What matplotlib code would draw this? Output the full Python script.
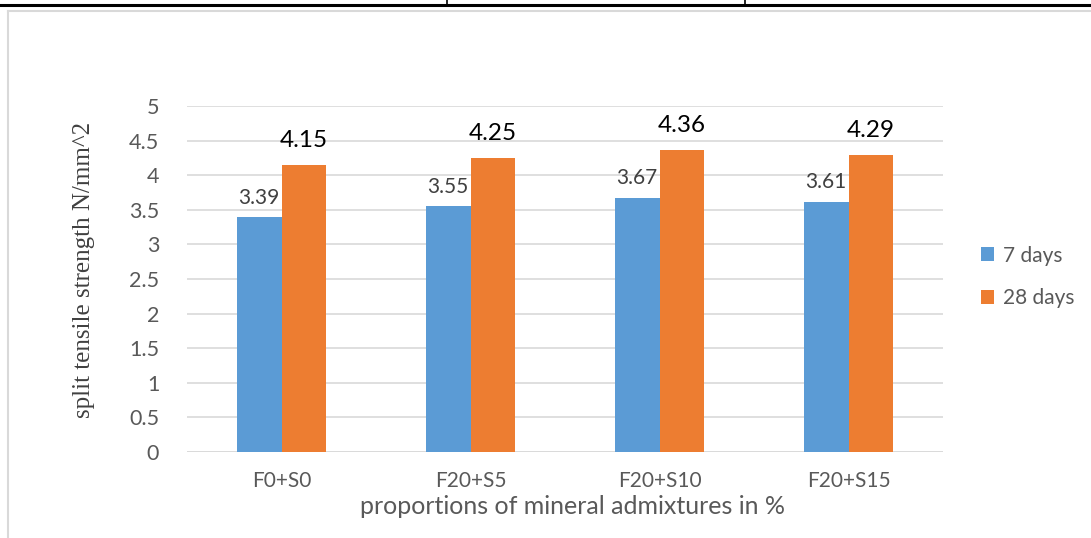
import matplotlib.pyplot as plt
import numpy as np
from matplotlib.lines import Line2D

# mix proportions and split tensile strength (N/mm^2)
mixes = ['F0+S0', 'F20+S5', 'F20+S10', 'F20+S15']
days7 = [3.39, 3.55, 3.67, 3.61]
days28 = [4.15, 4.25, 4.36, 4.29]
yticks = [0, 0.5, 1, 1.5, 2, 2.5, 3, 3.5, 4, 4.5, 5]

blue = '#5B9BD5'
orange = '#ED7D31'
txt = '#595959'

fig = plt.figure(figsize=(10.91, 5.38), dpi=100)
W, H = 1091, 538

# table rule across the top and the chart frame
fig.add_artist(Line2D([0, 1], [1 - 5 / H, 1 - 5 / H], color='black', lw=2.2))
for xp in (447, 745):
    fig.add_artist(Line2D([xp / W, xp / W], [1 - 5 / H, 1], color='black', lw=1.2))
fig.add_artist(Line2D([8 / W, 8 / W], [0, 1 - 11 / H], color='#D9D9D9', lw=1.5))
fig.add_artist(Line2D([8 / W, 1], [1 - 11 / H, 1 - 11 / H], color='#D9D9D9', lw=1.5))

ax = fig.add_axes([187 / W, 1 - 452 / H, (943 - 187) / W, (452 - 106) / H])
x = np.arange(len(mixes))
w = 0.238
ax.bar(x - w / 2, days7, w, color=blue, label='7 days', zorder=3)
ax.bar(x + w / 2, days28, w, color=orange, label='28 days', zorder=3)

for xi, v in zip(x, days7):
    ax.annotate(f'{v:.2f}', (xi - w / 2, v), xytext=(0, 7), textcoords='offset points',
                ha='center', va='bottom', fontsize=15, color='#404040', family='Lato')
for xi, v in zip(x, days28):
    ax.annotate(f'{v:.2f}', (xi + w / 2, v), xytext=(0, 10), textcoords='offset points',
                ha='center', va='bottom', fontsize=17.5, color='black', family='Lato')

ax.set_xlim(-0.5, len(mixes) - 0.5)
ax.set_ylim(0, 5)
ax.set_yticks(yticks)
ax.set_yticklabels([f'{t:g}' for t in yticks], fontsize=15.5, color=txt, family='Lato')
ax.set_xticks(x)
ax.set_xticklabels(mixes, fontsize=15, color=txt, family='Lato')
ax.tick_params(length=0)
ax.tick_params(axis='y', pad=20)
ax.tick_params(axis='x', pad=14)
ax.grid(axis='y', color='#D9D9D9', lw=1.2, zorder=0)
for s in ax.spines.values():
    s.set_visible(False)
ax.axhline(0, color='#D9D9D9', lw=1.2, zorder=1)

fig.text(572 / W, 1 - 507 / H, 'proportions of mineral admixtures in %', ha='center', va='center',
         fontsize=18, color=txt, family='Lato')
fig.text(84 / W, 1 - 270 / H, 'split tensile strength N/mm^2', ha='center', va='center',
         rotation=90, fontsize=18, color='#404040', family='Liberation Serif')

ax.legend(loc='center left', bbox_to_anchor=(962 / W, 1 - 277 / H), bbox_transform=fig.transFigure,
          frameon=False, prop={'family': 'Lato', 'size': 15}, labelcolor=txt,
          handlelength=0.65, handleheight=0.65, handletextpad=0.4, labelspacing=1.1)

fig.savefig('out.png', dpi=100)
